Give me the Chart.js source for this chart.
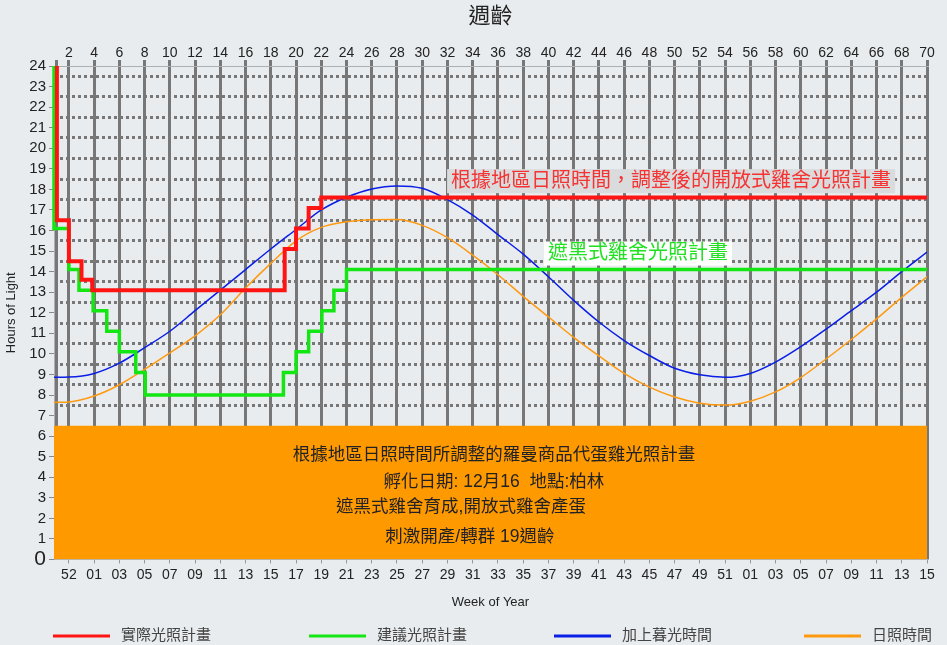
<!DOCTYPE html>
<html>
<head>
<meta charset="utf-8">
<script src="https://cdn.jsdelivr.net/npm/chart.js@4/dist/chart.umd.min.js"></script>
<style>
  html, body { margin: 0; padding: 0; background: #e8ecef; }
  canvas { display: block; }
</style>
</head>
<body>
<canvas id="c" width="947" height="645"></canvas>
<script>
// Age in weeks (top axis) and the matching week-of-year labels (bottom axis)
const ageLabels = [2, 4, 6, 8, 10, 12, 14, 16, 18, 20, 22, 24, 26, 28, 30, 32, 34, 36,
  38, 40, 42, 44, 46, 48, 50, 52, 54, 56, 58, 60, 62, 64, 66, 68, 70];
const weekOfYearLabels = ['52', '01', '03', '05', '07', '09', '11', '13', '15', '17', '19',
  '21', '23', '25', '27', '29', '31', '33', '35', '37', '39', '41', '43', '45', '47', '49',
  '51', '01', '03', '05', '07', '09', '11', '13', '15'];
const yHalfHours = [7.5, 8.5, 9.5, 10.5, 11.5, 12.5, 13.5, 14.5, 15.5, 16.5, 17.5, 18.5,
  19.5, 20.5, 21.5, 22.5, 23.5];

// Actual lighting program (step changes at these ages)
const actualWeeks = [1.05, 1.05, 2, 3, 3.85, 19.1, 20, 21, 22, 70];
const actualHours = [24, 16.5, 14.5, 13.6, 13.1, 15.1, 16.1, 17.1, 17.6, 17.6];

// Recommended lighting program
const recWeeks = [0.82, 0.82, 2, 2.8, 3.92, 5, 6, 7.3, 8.05, 19, 20, 21, 22.05, 23, 24, 70];
const recHours = [24, 16.1, 14.1, 13.1, 12.1, 11.1, 10.1, 9.1, 8.0, 9.1, 10.1, 11.1, 12.1,
  13.1, 14.1, 14.1];

// Natural day length in Berlin, with and without civil twilight
const curveWeeks = [0.82, 2, 4, 6, 8, 10, 12, 14, 16, 18, 20, 22, 24, 26, 28, 30, 32, 34,
  36, 38, 40, 42, 44, 46, 48, 50, 52, 54, 56, 58, 60, 62, 64, 66, 68, 70];
const twilightHours = [8.86, 8.87, 9.05, 9.55, 10.3, 11.1, 12.1, 13.1, 14.1, 15.1, 16.05,
  17.0, 17.62, 18.02, 18.17, 18.05, 17.5, 16.75, 15.8, 14.85, 13.75, 12.6, 11.55, 10.65,
  9.92, 9.3, 8.98, 8.86, 9.05, 9.6, 10.35, 11.2, 12.1, 13.0, 14.0, 14.95];
const daylightHours = [7.64, 7.66, 7.95, 8.5, 9.25, 10.05, 10.88, 11.9, 13.2, 14.4, 15.5,
  16.15, 16.42, 16.52, 16.53, 16.25, 15.65, 14.8, 13.85, 12.8, 11.8, 10.8, 9.9, 9.05, 8.38,
  7.9, 7.6, 7.51, 7.7, 8.15, 8.85, 9.75, 10.7, 11.7, 12.75, 13.75];

// Height of the information panel at the bottom of the plot
const panelTop = 6.5;

const X_MIN = 0.82, X_MAX = 70;
const LATIN = '"Liberation Sans", Arial, "Noto Sans CJK TC", sans-serif';
const CJK = '"Liberation Sans", "Noto Sans CJK TC", sans-serif';

const pts = (xs, ys) => xs.map((x, i) => ({ x, y: ys[i] }));

const bgPlugin = {
  id: 'bg',
  beforeDraw(chart) {
    const ctx = chart.ctx;
    ctx.save();
    ctx.fillStyle = '#e8ecef';
    ctx.fillRect(0, 0, chart.width, chart.height);
    ctx.restore();
  }
};

// Text notes placed in data coordinates
const notesPlugin = {
  id: 'notes',
  afterDatasetsDraw(chart, args, opts) {
    const ctx = chart.ctx;
    const xs = chart.scales.x, ys = chart.scales.y;
    ctx.save();
    opts.items.forEach(n => {
      ctx.font = n.size + 'px ' + CJK;
      ctx.textAlign = 'center';
      ctx.textBaseline = 'middle';
      const px = xs.getPixelForValue(n.x);
      const py = ys.getPixelForValue(n.y);
      if (n.bg) {
        const w = ctx.measureText(n.text).width + 8;
        const h = n.size + 4;
        ctx.fillStyle = n.bg;
        ctx.fillRect(px - w / 2, py - h / 2, w, h);
      }
      ctx.fillStyle = n.color;
      ctx.fillText(n.text, px, py);
    });
    ctx.restore();
  }
};

// Legend row under the axis
const legendPlugin = {
  id: 'lineLegend',
  afterDraw(chart, args, opts) {
    const ctx = chart.ctx;
    ctx.save();
    const items = chart.data.datasets.filter(d => d.label);
    items.forEach((d, i) => {
      const x0 = opts.starts[i];
      const y = opts.y;
      ctx.strokeStyle = d.borderColor;
      ctx.lineWidth = 3;
      ctx.beginPath();
      ctx.moveTo(x0, y);
      ctx.lineTo(x0 + opts.lineLen, y);
      ctx.stroke();
      ctx.fillStyle = '#444';
      ctx.font = '15px ' + CJK;
      ctx.textAlign = 'left';
      ctx.textBaseline = 'middle';
      ctx.fillText(d.label, x0 + opts.lineLen + 11, y);
    });
    ctx.restore();
  }
};

new Chart(document.getElementById('c'), {
  type: 'line',
  data: {
    datasets: [
      {
        label: '實際光照計畫',
        data: pts(actualWeeks, actualHours),
        borderColor: '#ff1414',
        borderWidth: 4,
        stepped: 'before',
        pointRadius: 0,
        clip: 4
      },
      {
        label: '建議光照計畫',
        data: pts(recWeeks, recHours),
        borderColor: '#14e614',
        borderWidth: 3.5,
        stepped: 'before',
        pointRadius: 0,
        clip: 4
      },
      {
        label: '加上暮光時間',
        data: pts(curveWeeks, twilightHours),
        borderColor: '#0a1ee6',
        borderWidth: 1.5,
        cubicInterpolationMode: 'monotone',
        pointRadius: 0
      },
      {
        label: '日照時間',
        data: pts(curveWeeks, daylightHours),
        borderColor: '#ff9a10',
        borderWidth: 1.5,
        cubicInterpolationMode: 'monotone',
        pointRadius: 0
      },
      {
        data: [{ x: X_MIN, y: panelTop }, { x: X_MAX, y: panelTop }],
        borderWidth: 0,
        borderColor: 'rgba(0,0,0,0)',
        backgroundColor: '#ff9900',
        fill: 'origin',
        pointRadius: 0
      }
    ]
  },
  options: {
    responsive: false,
    animation: false,
    devicePixelRatio: 1,
    layout: { padding: { left: 0, right: 20, top: 0, bottom: 31 } },
    plugins: {
      legend: { display: false },
      tooltip: { enabled: false },
      lineLegend: { starts: [53, 309, 554, 804], y: 636, lineLen: 57 },
      notes: {
        items: [
          { text: '根據地區日照時間，調整後的開放式雞舍光照計畫', x: 49.72, y: 18.4, size: 20, color: '#f53333', bg: '#d9dbdd' },
          { text: '遮黑式雞舍光照計畫', x: 47.1, y: 14.88, size: 20, color: '#22e022', bg: '#ffffff' },
          { text: '根據地區日照時間所調整的羅曼商品代蛋雞光照計畫', x: 35.68, y: 5.08, size: 17.5, color: '#222' },
          { text: '孵化日期: 12月16  地點:柏林', x: 35.68, y: 3.77, size: 17.5, color: '#222' },
          { text: '遮黑式雞舍育成,開放式雞舍產蛋', x: 33.07, y: 2.55, size: 17.5, color: '#222' },
          { text: '刺激開產/轉群 19週齡', x: 33.78, y: 1.09, size: 17.5, color: '#222' }
        ]
      }
    },
    scales: {
      x: {
        type: 'linear',
        position: 'bottom',
        min: X_MIN,
        max: X_MAX,
        afterBuildTicks: s => { s.ticks = ageLabels.map(v => ({ value: v })); },
        afterFit: s => { s.height = 54.5; },
        ticks: {
          autoSkip: false,
          maxRotation: 0,
          padding: 3,
          color: '#222',
          font: { size: 14, family: LATIN },
          callback: v => {
            const i = ageLabels.indexOf(v);
            return i >= 0 ? weekOfYearLabels[i] : '';
          }
        },
        grid: { drawOnChartArea: false, tickLength: 4, color: '#999' },
        border: { color: '#b4b8bb' },
        title: {
          display: true,
          text: 'Week of Year',
          color: '#222',
          font: { size: 13, family: LATIN },
          padding: { top: 4, bottom: 4 }
        }
      },
      xTop: {
        type: 'linear',
        position: 'top',
        min: X_MIN,
        max: X_MAX,
        afterBuildTicks: s => { s.ticks = [1].concat(ageLabels).map(v => ({ value: v })); },
        afterFit: s => { s.height = 66; },
        ticks: {
          autoSkip: false,
          maxRotation: 0,
          padding: -2,
          color: '#222',
          font: { size: 14, family: LATIN },
          callback: v => (ageLabels.includes(v) ? String(v) : '')
        },
        grid: { color: '#777', lineWidth: 3, tickLength: 6 },
        border: { color: '#aab0b4', width: 1 },
        title: {
          display: true,
          text: '週齡',
          color: '#222',
          font: { size: 22, family: CJK },
          padding: { top: 4, bottom: 0 }
        }
      },
      y: {
        type: 'linear',
        position: 'left',
        min: 0,
        max: 24,
        afterFit: s => { s.width = 54; },
        ticks: {
          stepSize: 1,
          autoSkip: false,
          padding: 3,
          color: '#222',
          font: ctx => ({ size: ctx.tick && ctx.tick.value === 0 ? 21 : 15, family: LATIN })
        },
        grid: { drawOnChartArea: false, tickLength: 5, color: '#888' },
        border: { color: '#aab0b4' },
        title: {
          display: true,
          text: 'Hours of Light',
          color: '#222',
          font: { size: 13, family: LATIN },
          padding: { top: 4, bottom: 4 }
        }
      },
      yHalf: {
        type: 'linear',
        position: 'right',
        min: 0,
        max: 24,
        afterBuildTicks: s => { s.ticks = yHalfHours.map(v => ({ value: v })); },
        afterFit: s => { s.width = 0; },
        ticks: { display: false },
        grid: { color: '#777', lineWidth: 3, drawTicks: false },
        border: { display: false, dash: [3, 3] }
      }
    }
  },
  plugins: [bgPlugin, notesPlugin, legendPlugin]
});
</script>
</body>
</html>
